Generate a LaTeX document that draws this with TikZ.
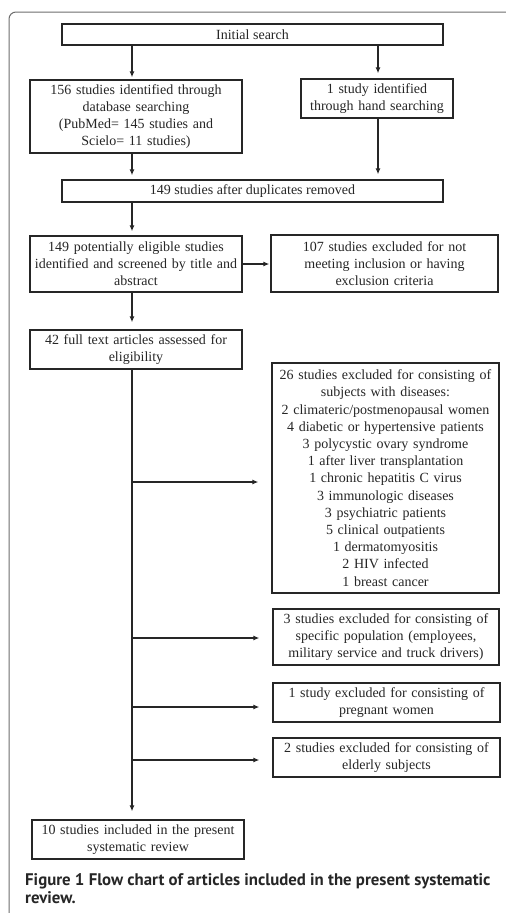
\documentclass[tikz,border=0pt]{standalone}
\usepackage{fontspec}
\setmainfont{Liberation Serif}
\newfontfamily\capfont{PT Sans}
\usetikzlibrary{arrows.meta}
\definecolor{ink}{HTML}{262626}
\definecolor{framec}{HTML}{6E6E6E}
\begin{document}
\begin{tikzpicture}[x=1pt,y=-1pt,
  box/.style={draw=ink,line width=1.3pt,inner sep=0pt,align=center,text=ink,
    font=\fontsize{14}{17.2}\selectfont},
  arr/.style={draw=ink,line width=1.3pt,-{Latex[length=6pt,width=5pt]}},
  lin/.style={draw=ink,line width=1.3pt}]
\useasboundingbox (0,0) rectangle (506,913);
\fill[white] (0,0) rectangle (506,913);
\draw[framec,line width=1pt,rounded corners=7] (9,914) -- (9,12) -- (507,12);
% boxes: centre, width, height
\node[box,minimum width=381,minimum height=21] (init) at (252.5,34.5) {Initial search};
\node[box,minimum width=212,minimum height=73,text width=212] (db) at (136,116.5)
  {156 studies identified through\\database searching\\(PubMed= 145 studies and\\Scielo= 11 studies)};
\node[box,minimum width=152,minimum height=39,text width=152] (hand) at (377,98.5)
  {1 study identified\\through hand searching};
\node[box,minimum width=381,minimum height=22] (dup) at (252.5,191)
  {149 studies after duplicates removed};
\node[box,minimum width=212,minimum height=56,text width=212] (pot) at (136,264)
  {149 potentially eligible studies\\identified and screened by title and\\abstract};
\node[box,minimum width=227,minimum height=57,text width=227] (ex107) at (384.5,263.5)
  {107 studies excluded for not\\meeting inclusion or having\\exclusion criteria};
\node[box,minimum width=212,minimum height=39,text width=212] (full) at (136,349.5)
  {42 full text articles assessed for\\eligibility};
\node[box,minimum width=227,minimum height=230,text width=227] (ex26) at (385.5,478)
  {26 studies excluded for consisting of\\subjects with diseases:\\2 climateric/postmenopausal women\\4 diabetic or hypertensive patients\\3 polycystic ovary syndrome\\1 after liver transplantation\\1 chronic hepatitis C virus\\3 immunologic diseases\\3 psychiatric patients\\5 clinical outpatients\\1 dermatomyositis\\2 HIV infected\\1 breast cancer};
\node[box,minimum width=226,minimum height=56,text width=226] (ex3) at (386,637)
  {3 studies excluded for consisting of\\specific population (employees,\\military service and truck drivers)};
\node[box,minimum width=227,minimum height=39,text width=227] (ex1) at (386.5,702.5)
  {1 study excluded for consisting of\\pregnant women};
\node[box,minimum width=227,minimum height=39,text width=227] (ex2) at (386.5,757.5)
  {2 studies excluded for consisting of\\elderly subjects};
\node[box,minimum width=212,minimum height=39,text width=212] (incl) at (138,839.5)
  {10 studies included in the present\\systematic review};
% guide coordinates
\coordinate (L) at (132,0);
\coordinate (R) at (378,0);
\coordinate (b1) at (132,482);
\coordinate (b2) at (132,638);
\coordinate (b3) at (132,707);
\coordinate (b4) at (132,760);
% connectors
\draw[arr,shorten >=2pt] (init.south -| L) -- (db.north -| L);
\draw[arr,shorten >=5pt] (init.south -| R) -- (hand.north -| R);
\draw[arr,shorten >=4pt] (db.south -| L) -- (dup.north -| L);
\draw[arr,shorten >=5pt] (hand.south -| R) -- (dup.north -| R);
\draw[arr,shorten >=4pt] (dup.south -| L) -- (pot.north -| L);
\draw[arr,shorten >=1pt] (pot.east |- 0,264) -- (ex107.west |- 0,264);
\draw[arr,shorten >=7pt] (pot.south -| L) -- (full.north -| L);
\draw[arr,shorten >=8pt] (full.south -| L) -- (incl.north -| L);
\draw[arr,shorten >=13pt] (b1) -- (ex26.west |- b1);
\draw[arr,shorten >=13pt] (b2) -- (ex3.west |- b2);
\draw[arr,shorten >=13pt] (b3) -- (ex1.west |- b3);
\draw[arr,shorten >=13pt] (b4) -- (ex2.west |- b4);
% caption
\node[anchor=base west,inner sep=0pt,text=ink,align=left,
  font=\capfont\bfseries\fontsize{16.8}{18}\selectfont] (cap) at (25,903)
  {Figure 1 Flow chart of articles included in the present systematic\\review.};
\end{tikzpicture}
\end{document}
